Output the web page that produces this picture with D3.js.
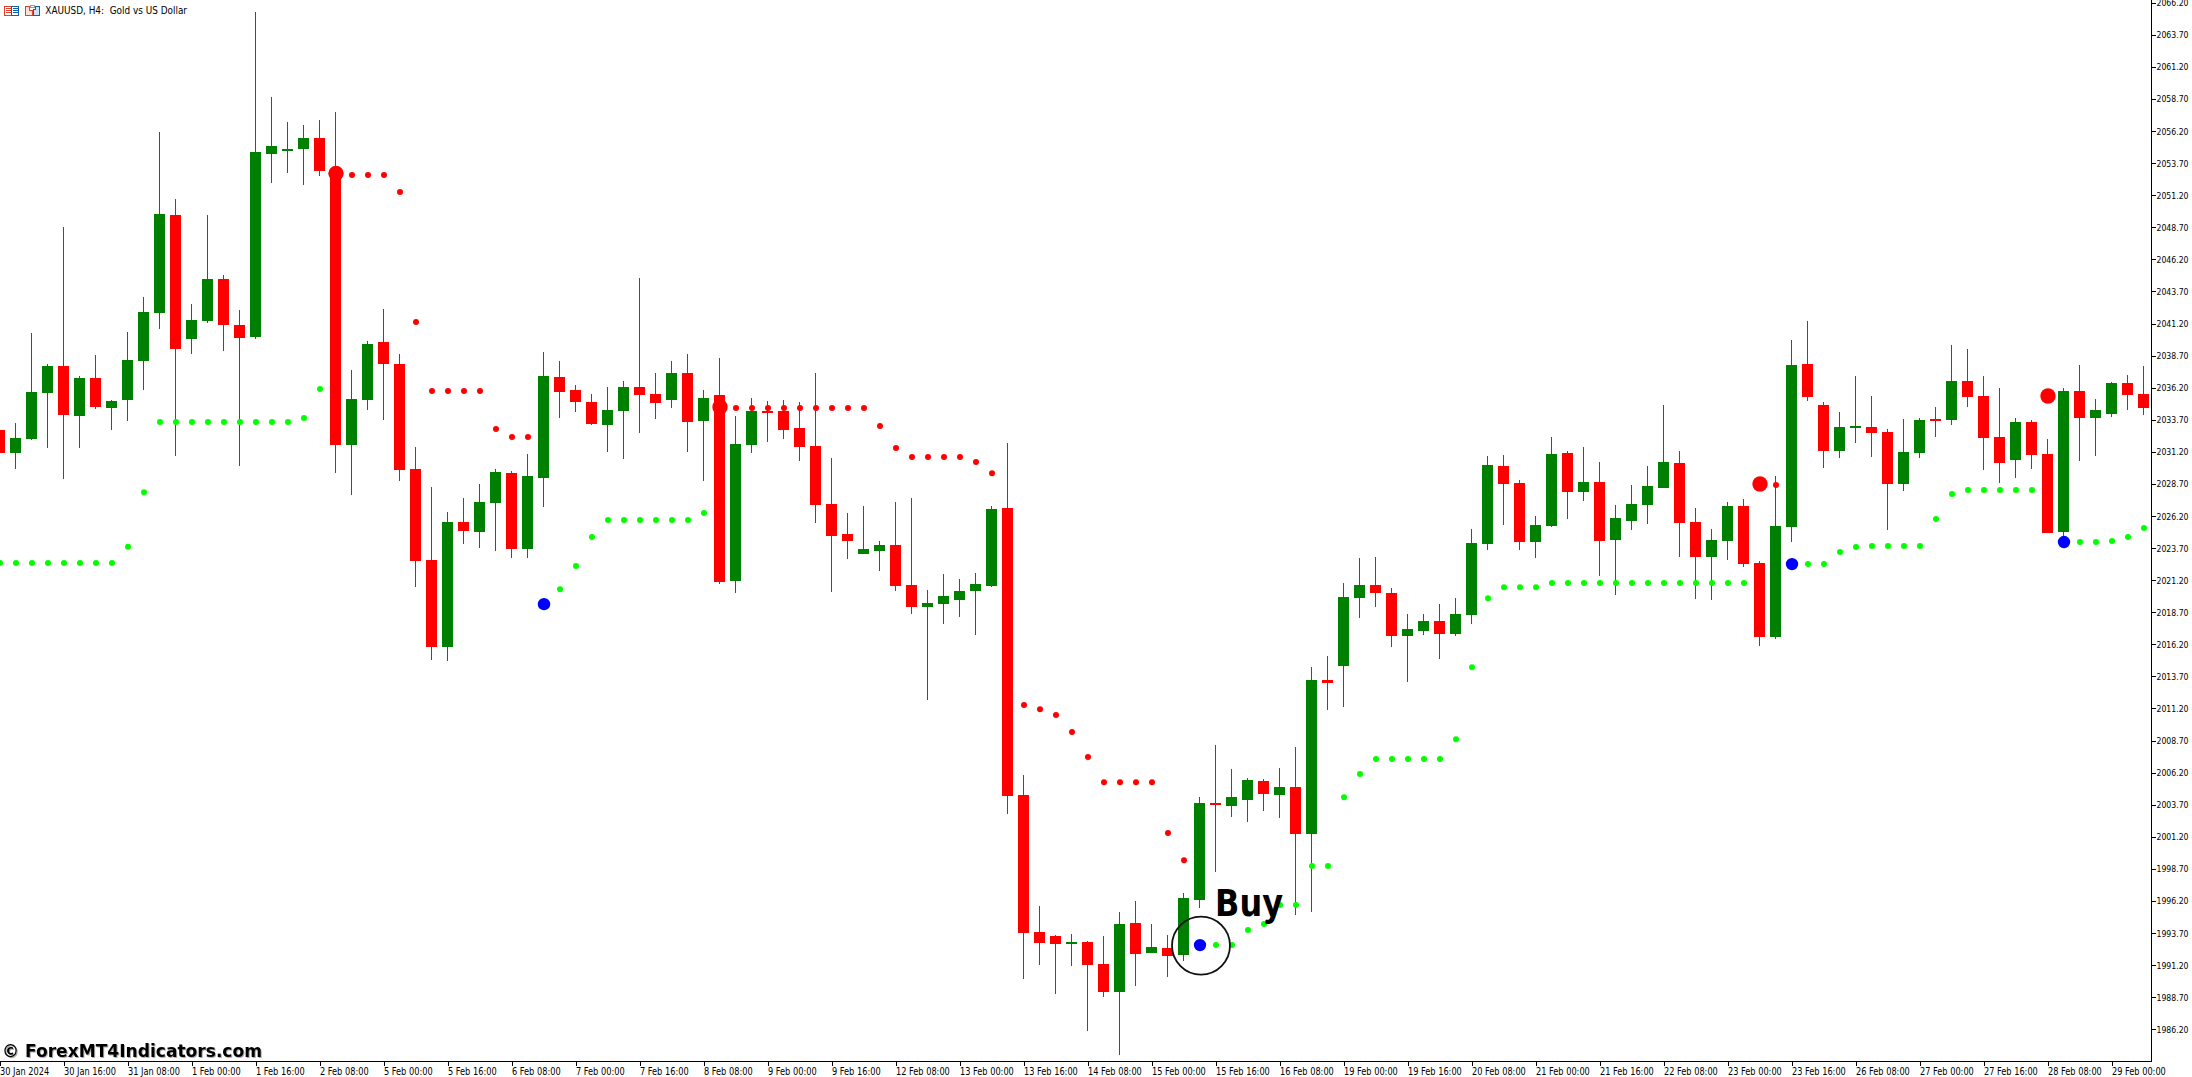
<!DOCTYPE html>
<html><head><meta charset="utf-8"><title>XAUUSD H4</title>
<script src="https://cdn.jsdelivr.net/npm/d3@7/dist/d3.min.js"></script>
<style>
html,body{margin:0;padding:0;background:#fff;overflow:hidden}
svg{display:block;position:absolute;left:0;top:0}
.lab{font-family:"DejaVu Sans Condensed","DejaVu Sans",sans-serif;font-stretch:condensed;font-size:10px;fill:#000}
.ylab{font-size:9.4px}
</style></head><body>
<svg id="c" width="2192" height="1077"></svg>
<script>
const _ = null;
const barOpen = [2032.90,2031.13,2032.19,2035.81,2037.88,2034.01,2036.95,2034.64,2035.26,2038.30,
2042.04,2049.65,2040.01,2041.42,2044.66,2041.08,2040.17,2054.43,2054.67,2054.82,
2055.65,2053.11,2031.75,2035.26,2039.75,2038.04,2029.86,2022.76,2016.01,2025.72,
2024.97,2027.23,2029.54,2023.65,2029.18,2037.03,2036.01,2035.08,2033.31,2034.40,
2036.25,2035.70,2035.26,2037.34,2033.62,2035.62,2021.15,2031.75,2034.38,2034.38,
2033.05,2031.65,2027.13,2024.79,2023.26,2023.49,2023.93,2020.82,2019.13,2019.36,
2019.67,2020.37,2020.76,2026.82,2004.45,1993.77,1993.46,1992.86,1992.99,1991.28,
1989.12,1994.47,1992.16,1992.53,1992.01,1996.29,2003.83,2003.62,2004.09,2005.54,
2004.48,2005.07,2001.44,2013.41,2014.53,2019.82,2020.81,2020.19,2016.86,2017.25,
2018.00,2017.02,2018.50,2024.03,2030.08,2028.76,2024.19,2025.43,2031.10,2028.08,
2028.84,2024.34,2025.82,2027.07,2028.40,2030.32,2025.72,2023.02,2024.27,2026.97,
2022.52,2016.78,2025.36,2038.04,2034.85,2031.29,2033.08,2033.13,2032.74,2028.71,
2031.13,2033.75,2033.70,2036.72,2035.55,2032.35,2030.58,2033.52,2031.03,2024.97,
2035.94,2033.86,2034.17,2036.56,2035.70];
const barClose = [2031.13,2032.27,2035.86,2037.88,2034.09,2036.95,2034.71,2035.16,2038.35,2042.09,
2049.73,2039.23,2041.47,2044.66,2041.11,2040.09,2054.56,2055.03,2054.80,2055.65,
2053.11,2031.75,2035.31,2039.60,2038.07,2029.80,2022.71,2016.01,2025.72,2025.05,
2027.28,2029.62,2023.65,2029.31,2037.10,2035.88,2035.10,2033.39,2034.45,2036.25,
2035.65,2035.03,2037.34,2033.55,2035.39,2021.07,2031.80,2034.38,2034.22,2032.92,
2031.60,2027.08,2024.66,2024.27,2023.62,2023.93,2020.76,2019.13,2019.41,2019.96,
2020.35,2020.89,2026.74,2004.40,1993.72,1992.94,1992.86,1992.99,1991.23,1989.12,
1994.40,1992.08,1992.60,1991.93,1996.42,2003.83,2003.70,2004.29,2005.62,2004.55,
2005.07,2001.44,2013.41,2013.21,2019.88,2020.81,2020.21,2016.86,2017.38,2018.00,
2017.02,2018.55,2024.08,2030.16,2028.71,2024.19,2025.49,2031.02,2028.08,2028.84,
2024.27,2026.03,2027.12,2028.53,2030.40,2025.67,2023.02,2024.32,2026.97,2022.47,
2016.78,2025.41,2037.96,2035.49,2031.29,2033.13,2033.21,2032.69,2028.71,2031.18,
2033.68,2033.68,2036.72,2035.49,2032.30,2030.35,2033.52,2030.97,2024.89,2035.94,
2033.86,2034.46,2036.56,2035.65,2034.64];
const barHigh = [2032.90,2033.42,2040.46,2038.04,2048.72,2037.10,2038.74,2035.23,2040.53,2043.26,
2056.12,2050.90,2042.72,2049.65,2044.98,2042.25,2065.47,2058.85,2056.90,2056.67,
2057.06,2057.68,2037.57,2039.83,2042.33,2038.82,2031.57,2028.45,2026.50,2027.60,
2028.69,2029.86,2029.70,2031.03,2038.98,2038.27,2036.40,2035.70,2036.25,2036.71,
2044.74,2037.34,2038.27,2038.82,2036.01,2038.51,2033.99,2035.39,2035.16,2035.23,
2035.08,2037.34,2030.71,2026.43,2026.97,2024.24,2027.28,2027.60,2020.43,2021.67,
2021.28,2021.75,2026.97,2031.88,2006.01,1995.80,1993.54,1993.62,1993.07,1993.46,
1995.33,1996.19,1994.40,1993.54,1996.81,2004.29,2008.35,2006.48,2005.78,2005.70,
2006.55,2008.19,2014.43,2015.28,2020.97,2022.91,2022.99,2020.58,2018.55,2018.55,
2019.33,2019.80,2025.17,2030.86,2030.94,2028.99,2026.19,2032.35,2031.25,2031.57,
2030.40,2027.05,2028.60,2030.08,2034.84,2031.25,2026.81,2025.17,2027.28,2027.51,
2022.68,2029.31,2039.91,2041.39,2035.08,2034.30,2037.11,2035.55,2032.97,2033.75,
2033.83,2034.69,2039.52,2039.21,2037.11,2036.17,2033.83,2033.68,2032.20,2036.17,
2037.96,2035.31,2036.64,2037.18,2037.88];
const barLow = [2031.13,2029.88,2032.12,2031.52,2029.10,2031.52,2034.56,2032.92,2033.62,2036.04,
2040.79,2030.90,2038.85,2041.26,2039.08,2030.12,2040.01,2052.17,2052.95,2052.02,
2052.72,2029.57,2027.86,2034.48,2033.70,2028.95,2020.66,2015.00,2014.89,2024.04,
2023.73,2023.49,2022.95,2022.95,2026.92,2033.86,2034.32,2033.31,2031.21,2030.66,
2032.69,2033.78,2034.64,2031.21,2028.95,2020.92,2020.22,2031.13,2031.99,2032.22,
2030.51,2025.67,2020.29,2022.87,2023.26,2021.93,2020.37,2018.58,2011.88,2017.80,
2018.35,2016.94,2020.69,2003.00,1990.14,1991.23,1988.97,1991.15,1986.08,1988.73,
1984.21,1989.59,1992.16,1990.29,1991.54,1995.67,1998.48,2002.76,2002.37,2003.23,
2002.68,1995.12,1995.36,2011.10,2011.34,2018.26,2019.12,2016.00,2013.28,2016.94,
2015.07,2016.86,2017.80,2023.56,2025.51,2023.56,2022.94,2025.36,2025.98,2027.38,
2021.54,2020.06,2025.12,2025.59,2028.40,2023.02,2019.74,2019.67,2022.78,2022.24,
2016.08,2016.63,2024.19,2035.18,2029.96,2030.74,2031.91,2030.82,2025.13,2028.17,
2030.74,2032.38,2033.31,2034.72,2029.80,2028.79,2029.18,2029.88,2024.89,2024.58,
2030.51,2030.90,2033.94,2034.48,2034.09];
const upDots = [2022.54,2022.54,2022.54,2022.54,2022.54,2022.54,2022.54,2022.54,2023.80,2028.06,
2033.52,2033.52,2033.52,2033.52,2033.52,2033.52,2033.52,2033.52,2033.52,2033.83,
2036.09,_,_,_,_,_,_,_,_,_,
_,_,_,_,2019.33,2020.50,2022.30,2024.56,2025.88,2025.88,
2025.88,2025.88,2025.88,2025.88,2026.43,_,_,_,_,_,
_,_,_,_,_,_,_,_,_,_,
_,_,_,_,_,_,_,_,_,_,
_,_,_,_,_,1992.76,1992.76,1992.76,1993.93,1994.40,
1995.88,1995.88,1998.92,1998.92,2004.29,2006.09,2007.26,2007.26,2007.26,2007.26,
2007.26,2008.81,2014.42,2019.80,2020.65,2020.65,2020.65,2020.97,2020.97,2020.97,
2020.97,2020.97,2020.97,2020.97,2020.97,2020.97,2020.97,2020.97,2020.97,2020.97,
_,_,2022.45,2022.45,2022.45,2023.39,2023.78,2023.86,2023.86,2023.86,
2023.86,2025.96,2027.91,2028.22,2028.22,2028.22,2028.22,2028.22,_,2024.17,
2024.17,2024.17,2024.25,2024.56,2025.26];
const downDots = [_,_,_,_,_,_,_,_,_,_,
_,_,_,_,_,_,_,_,_,_,
_,2052.90,2052.77,2052.77,2052.77,2051.45,2041.31,2035.94,2035.94,2035.94,
2035.94,2032.97,2032.35,2032.35,_,_,_,_,_,_,
_,_,_,_,_,2034.69,2034.61,2034.61,2034.61,2034.61,
2034.61,2034.61,2034.61,2034.61,2034.61,2033.21,2031.49,2030.79,2030.79,2030.79,
2030.79,2030.40,2029.54,_,2011.47,2011.15,2010.69,2009.36,2007.41,2005.46,
2005.46,2005.46,2005.46,2001.49,1999.38,_,_,_,_,_,
_,_,_,_,_,_,_,_,_,_,
_,_,_,_,_,_,_,_,_,_,
_,_,_,_,_,_,_,_,_,_,
2028.69,2028.61,_,_,_,_,_,_,_,_,
_,_,_,_,_,_,_,_,2035.55,_,
_,_,_,_,_];
const buyBars = [34,75,112,129];
const sellBars = [21,45,110,128];
const priceTicks = [1986.2,1988.7,1991.2,1993.7,1996.2,1998.7,2001.2,2003.7,2006.2,2008.7,2011.2,2013.7,2016.2,2018.7,2021.2,2023.7,2026.2,2028.7,2031.2,2033.7,2036.2,2038.7,2041.2,2043.7,2046.2,2048.7,2051.2,2053.7,2056.2,2058.7,2061.2,2063.7,2066.2];
const timeLabels = ["30 Jan 2024","30 Jan 16:00","31 Jan 08:00","1 Feb 00:00","1 Feb 16:00","2 Feb 08:00","5 Feb 00:00","5 Feb 16:00","6 Feb 08:00","7 Feb 00:00","7 Feb 16:00","8 Feb 08:00","9 Feb 00:00","9 Feb 16:00","12 Feb 08:00","13 Feb 00:00","13 Feb 16:00","14 Feb 08:00","15 Feb 00:00","15 Feb 16:00","16 Feb 08:00","19 Feb 00:00","19 Feb 16:00","20 Feb 08:00","21 Feb 00:00","21 Feb 16:00","22 Feb 08:00","23 Feb 00:00","23 Feb 16:00","26 Feb 08:00","27 Feb 00:00","27 Feb 16:00","28 Feb 08:00","29 Feb 00:00"];
const titleText = "XAUUSD, H4:  Gold vs US Dollar";
const watermark = "© ForexMT4Indicators.com";
const annotation = "Buy";
const BULL="#008000", BEAR="#ff0000", UP="#00ff00", DOWN="#ff0000", SIG="#0000ff";

const svg = d3.select("#c");
const x = d3.scaleLinear().domain([0,134]).range([-0.5,2143.5]);
const y = d3.scaleLinear().domain([2066.2,1986.2]).range([2.7,1029.3]);
const bars = d3.range(barOpen.length);
const col = i => barClose[i]>=barOpen[i] ? BULL : BEAR;

const gC = svg.append("g").attr("shape-rendering","crispEdges");
gC.selectAll("rect.w").data(bars).join("rect").attr("class","w")
  .attr("x",i=>x(i)-0.5).attr("width",1)
  .attr("y",i=>y(barHigh[i])).attr("height",i=>Math.max(1,y(barLow[i])-y(barHigh[i])))
  .attr("fill",col);
gC.selectAll("rect.b").data(bars).join("rect").attr("class","b")
  .attr("x",i=>x(i)-5.5).attr("width",11)
  .attr("y",i=>y(Math.max(barOpen[i],barClose[i])))
  .attr("height",i=>Math.max(2,Math.abs(y(barOpen[i])-y(barClose[i]))))
  .attr("fill",col);

const dotX = i => x(i)+0.5;
const gD = svg.append("g");
gD.selectAll("circle.u").data(bars.filter(i=>upDots[i]!==null)).join("circle").attr("class","u")
  .attr("cx",dotX).attr("cy",i=>y(upDots[i]))
  .attr("r",i=>buyBars.includes(i)?6.2:3)
  .attr("fill",i=>buyBars.includes(i)?SIG:UP);
gD.selectAll("circle.d").data(bars.filter(i=>downDots[i]!==null)).join("circle").attr("class","d")
  .attr("cx",dotX).attr("cy",i=>y(downDots[i]))
  .attr("r",i=>sellBars.includes(i)?7.7:3)
  .attr("fill",DOWN);

// axes
const fitText = (sel, target) => sel.each(function(){
  this.setAttribute("textLength", target(this));
  this.setAttribute("lengthAdjust","spacingAndGlyphs");
});
const yAxis = d3.axisRight(y).tickValues(priceTicks).tickFormat(d3.format(".2f")).tickSize(4).tickSizeOuter(0).tickPadding(1);
const gy = svg.append("g").attr("transform","translate(2151.5,0)").call(yAxis);
gy.select(".domain").remove();
gy.selectAll("line").attr("stroke","#000").attr("shape-rendering","crispEdges");
gy.selectAll("text").attr("class","lab ylab");
fitText(gy.selectAll("text"),()=>32);

const tickBars = timeLabels.map((_l,k)=>k*4);
const xAxis = d3.axisBottom(x).tickValues(tickBars).tickFormat((d,k)=>timeLabels[k]).tickSize(4).tickSizeOuter(0).tickPadding(1);
const gx = svg.append("g").attr("transform","translate(0,1061.5)").call(xAxis);
gx.select(".domain").remove();
gx.selectAll("line").attr("stroke","#000").attr("shape-rendering","crispEdges");
gx.selectAll("text").attr("class","lab").attr("text-anchor","start").attr("y",6).attr("dy","0.71em");
const refW = gx.selectAll("text").nodes()[1].getComputedTextLength();
fitText(gx.selectAll("text"),n=>n.getComputedTextLength()*52/refW);
svg.selectAll("g").attr("font-family",null).attr("font-size",null);

svg.append("line").attr("x1",2151.5).attr("x2",2151.5).attr("y1",0).attr("y2",1061.5).attr("stroke","#000").attr("shape-rendering","crispEdges");
svg.append("line").attr("x1",0).attr("x2",2151.5).attr("y1",1061.5).attr("y2",1061.5).attr("stroke","#000").attr("shape-rendering","crispEdges");

// header icons
const ic = svg.append("g").attr("shape-rendering","crispEdges").attr("fill","none");
ic.append("rect").attr("x",4.5).attr("y",6.5).attr("width",7).attr("height",9).attr("stroke","#e04030");
ic.append("rect").attr("x",11.5).attr("y",6.5).attr("width",7).attr("height",9).attr("stroke","#1060b0");
[8.5,10.5,12.5].forEach(v=>{
  ic.append("line").attr("x1",6).attr("x2",11).attr("y1",v).attr("y2",v).attr("stroke","#e04030");
  ic.append("line").attr("x1",13).attr("x2",18).attr("y1",v).attr("y2",v).attr("stroke","#1060b0");
});
ic.append("path").attr("d","M25.5 6.5H29.5V10.5H32.5V15.5H25.5Z").attr("stroke","#e04030").attr("fill","#fde0d8");
ic.append("path").attr("d","M33.5 9.5H35.5V6.5H39.5V15.5H33.5Z").attr("stroke","#1060b0").attr("fill","#c8e4f8");
ic.append("rect").attr("x",30.5).attr("y",5.5).attr("width",4).attr("height",2).attr("stroke","#999");

svg.append("text").attr("class","lab").attr("x",45.3).attr("y",14).text(titleText)
  .attr("textLength",141.7).attr("lengthAdjust","spacingAndGlyphs").style("white-space","pre");

svg.append("text").attr("x",2).attr("y",1057.3)
  .attr("font-family","'DejaVu Sans',sans-serif").attr("font-weight",700).attr("font-size",18)
  .attr("fill","#000").style("filter","drop-shadow(1px 1px 0 #aaa)")
  .attr("textLength",260).attr("lengthAdjust","spacingAndGlyphs").text(watermark);

// annotation
svg.append("text").attr("x",1215).attr("y",916)
  .attr("font-family","'DejaVu Sans',sans-serif").attr("font-weight",700).attr("font-size",36.5)
  .attr("fill","#000").attr("textLength",68).attr("lengthAdjust","spacingAndGlyphs").text(annotation);
svg.append("circle").attr("cx",dotX(75)+1).attr("cy",y(1992.76)+0.5).attr("r",29)
  .attr("fill","none").attr("stroke","#111").attr("stroke-width",1.8);
</script></body></html>
